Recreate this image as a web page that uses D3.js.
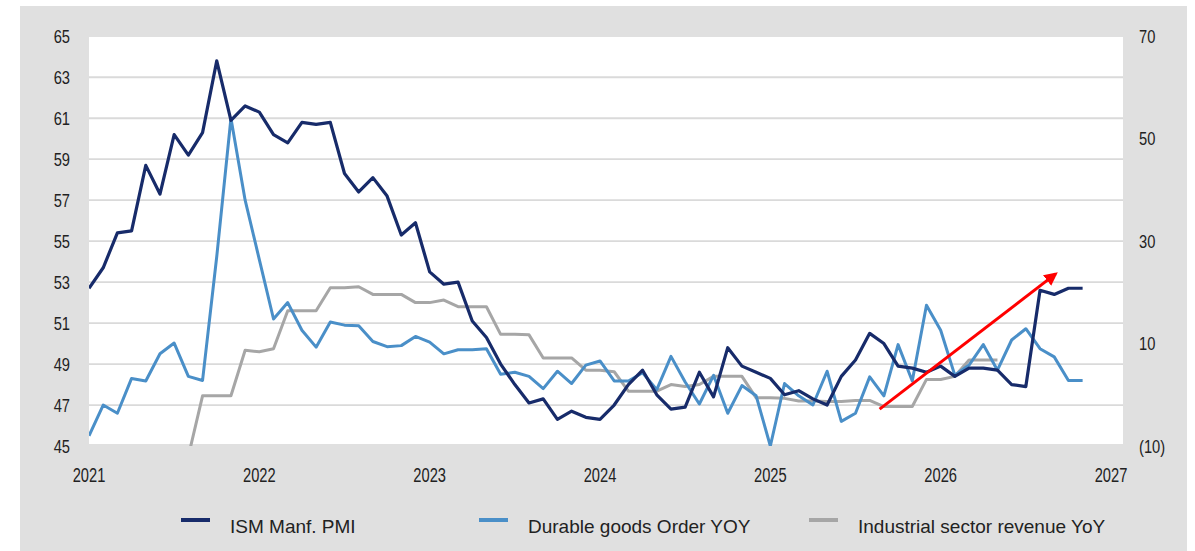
<!DOCTYPE html>
<html>
<head>
<meta charset="utf-8">
<script src="https://cdn.jsdelivr.net/npm/d3@7"></script>
<style>
  body { margin: 0; background: #fff; }
  svg { display: block; }
  text { font-family: "Liberation Sans", Arial, sans-serif; fill: #222; }
</style>
</head>
<body>
<svg id="chart" width="1195" height="551"></svg>
<script>
// monthly data, index 0 = Jan 2021
var yearLabels = ["2021", "2022", "2023", "2024", "2025", "2026", "2027"];
var leftTicks = [45, 47, 49, 51, 53, 55, 57, 59, 61, 63, 65];
var rightTicks = [70, 50, 30, 10, -10];
var rightTickLabels = ["70", "50", "30", "10", "(10)"];

// ISM Manf. PMI (left axis)
var ism = [52.7, 53.7, 55.4, 55.5, 58.7, 57.3, 60.2, 59.2, 60.3, 63.8,
  60.9, 61.6, 61.3, 60.2, 59.8, 60.8, 60.7, 60.8, 58.3, 57.4,
  58.1, 57.2, 55.3, 55.9, 53.5, 52.9, 53.0, 51.1, 50.3, 49.0,
  48.0, 47.1, 47.3, 46.3, 46.7, 46.4, 46.3, 47.0, 48.0, 48.7,
  47.5, 46.8, 46.9, 48.6, 47.4, 49.8, 48.9, 48.6, 48.3, 47.5,
  47.7, 47.3, 47.0, 48.4, 49.2, 50.5, 50.0, 48.9, 48.8, 48.6,
  48.9, 48.4, 48.8, 48.8, 48.7, 48.0, 47.9, 52.6, 52.4, 52.7, 52.7];

// Durable goods order YoY (right axis)
var durable = [-8.0, -2.0, -3.6, 3.2, 2.7, 8.0, 10.1, 3.6, 2.8, 27.0,
  54.0, 38.0, 26.4, 14.8, 18.0, 12.6, 9.3, 14.2, 13.6, 13.5,
  10.4, 9.4, 9.6, 11.4, 10.3, 8.0, 8.8, 8.8, 9.0, 4.0,
  4.4, 3.6, 1.2, 4.6, 2.2, 5.8, 6.6, 2.7, 2.7, 4.3,
  1.0, 7.5, 2.5, -1.8, 3.8, -3.6, 1.8, -0.2, -10.0, 2.2,
  -0.2, -2.0, 4.6, -5.2, -3.6, 3.5, -0.2, 9.8, 2.7, 17.5,
  12.6, 3.8, 5.8, 9.8, 4.8, 10.7, 12.9, 9.0, 7.4, 2.8, 2.8];

// Industrial sector revenue YoY (right axis)
var industrial = [null, null, null, null, null, null, null, -12.0, -0.2, -0.2,
  -0.2, 8.7, 8.4, 9.0, 16.4, 16.4, 16.4, 20.9, 20.9, 21.1,
  19.6, 19.6, 19.6, 18.0, 18.0, 18.5, 17.2, 17.2, 17.2, 11.8,
  11.8, 11.7, 7.2, 7.2, 7.2, 4.8, 4.8, 4.5, 0.7, 0.7,
  0.7, 2.0, 1.6, 2.0, 3.6, 3.6, 3.6, -0.6, -0.6, -0.7,
  -1.2, -1.2, -1.3, -1.3, -1.1, -1.1, -2.3, -2.3, -2.3, 3.0,
  3.0, 3.6, 6.8, 6.8, 6.8];

// trend arrow (month index, right-axis value)
var trendArrow = [[55.7, -2.8], [68.1, 23.6]];

var seriesNames = ["ISM Manf. PMI", "Durable goods Order YOY", "Industrial sector revenue YoY"];
var seriesColors = ["#172b6a", "#4a8fc8", "#a6a6a6"];

var svg = d3.select("#chart");
var plot = {left: 89, right: 1123, top: 37, bottom: 445};

var x = d3.scaleLinear().domain([0, 72]).range([89, 1111]);
var yL = d3.scaleLinear().domain([45, 65]).range([446, 36.3]);
var yR = d3.scaleLinear().domain([-10, 70]).range([446, 36.3]);

// backgrounds
svg.append("rect").attr("x", 20).attr("y", 6).attr("width", 1167).attr("height", 545).attr("fill", "#e0e0e0");
svg.append("rect").attr("x", plot.left).attr("y", plot.top)
  .attr("width", plot.right - plot.left).attr("height", plot.bottom - 1 - plot.top).attr("fill", "#fff");

svg.append("defs").append("clipPath").attr("id", "clip")
  .append("rect").attr("x", plot.left).attr("y", plot.top - 2)
  .attr("width", plot.right - plot.left).attr("height", plot.bottom - plot.top + 3);

// gridlines
svg.append("g").selectAll("line")
  .data(leftTicks.filter(function(d) { return d > 45 && d < 65; }))
  .join("line")
  .attr("x1", plot.left).attr("x2", plot.right)
  .attr("y1", function(d) { return yL(d); }).attr("y2", function(d) { return yL(d); })
  .attr("stroke", "#dadada").attr("stroke-width", 1.8);

// left tick labels
svg.append("g").selectAll("text")
  .data(leftTicks)
  .join("text")
  .attr("transform", function(d) { return "translate(70," + yL(d) + ") scale(0.79,1)"; })
  .attr("text-anchor", "end")
  .attr("dy", "0.36em")
  .style("font-size", "18.6px")
  .text(function(d) { return d; });

// right tick labels
svg.append("g").selectAll("text")
  .data(rightTicks)
  .join("text")
  .attr("transform", function(d) { return "translate(1139," + yR(d) + ") scale(0.79,1)"; })
  .attr("dy", "0.36em")
  .style("font-size", "18.6px")
  .text(function(d, i) { return rightTickLabels[i]; });

// x tick labels
svg.append("g").selectAll("text")
  .data(yearLabels)
  .join("text")
  .attr("transform", function(d, i) { return "translate(" + x(i * 12) + ",481.5) scale(0.7,1)"; })
  .attr("text-anchor", "middle")
  .style("font-size", "21px")
  .text(function(d) { return d; });

// lines
var lines = svg.append("g").attr("clip-path", "url(#clip)");
var lineL = d3.line().x(function(d, i) { return x(i); }).y(function(d) { return yL(d); })
  .defined(function(d) { return d != null; });
var lineR = d3.line().x(function(d, i) { return x(i); }).y(function(d) { return yR(d); })
  .defined(function(d) { return d != null; });

lines.append("path").datum(industrial).attr("d", lineR)
  .attr("fill", "none").attr("stroke", seriesColors[2]).attr("stroke-width", 3).attr("stroke-linejoin", "round");
lines.append("path").datum(durable).attr("d", lineR)
  .attr("fill", "none").attr("stroke", seriesColors[1]).attr("stroke-width", 3).attr("stroke-linejoin", "round");
lines.append("path").datum(ism).attr("d", lineL)
  .attr("fill", "none").attr("stroke", seriesColors[0]).attr("stroke-width", 3.2).attr("stroke-linejoin", "round");

// red arrow
svg.select("defs").append("marker")
  .attr("id", "arrow").attr("viewBox", "0 0 10 10").attr("refX", 8).attr("refY", 5)
  .attr("markerWidth", 4.5).attr("markerHeight", 4.5).attr("orient", "auto")
  .append("path").attr("d", "M0,0 L10,5 L0,10 z").attr("fill", "#ff0000");
svg.append("line")
  .attr("x1", x(trendArrow[0][0])).attr("y1", yR(trendArrow[0][1]))
  .attr("x2", x(trendArrow[1][0])).attr("y2", yR(trendArrow[1][1]))
  .attr("stroke", "#ff0000").attr("stroke-width", 3)
  .attr("marker-end", "url(#arrow)");

// legend
var legendX = [181, 479, 809];
var legend = svg.append("g").selectAll("g")
  .data(seriesNames)
  .join("g")
  .attr("transform", function(d, i) { return "translate(" + legendX[i] + ",520)"; });
legend.append("line").attr("x1", 0).attr("x2", 29).attr("y1", 0).attr("y2", 0)
  .attr("stroke", function(d, i) { return seriesColors[i]; }).attr("stroke-width", 4);
legend.append("text").attr("x", 49).attr("y", 13)
  .style("font-size", "19px")
  .text(function(d) { return d; });
</script>
</body>
</html>
